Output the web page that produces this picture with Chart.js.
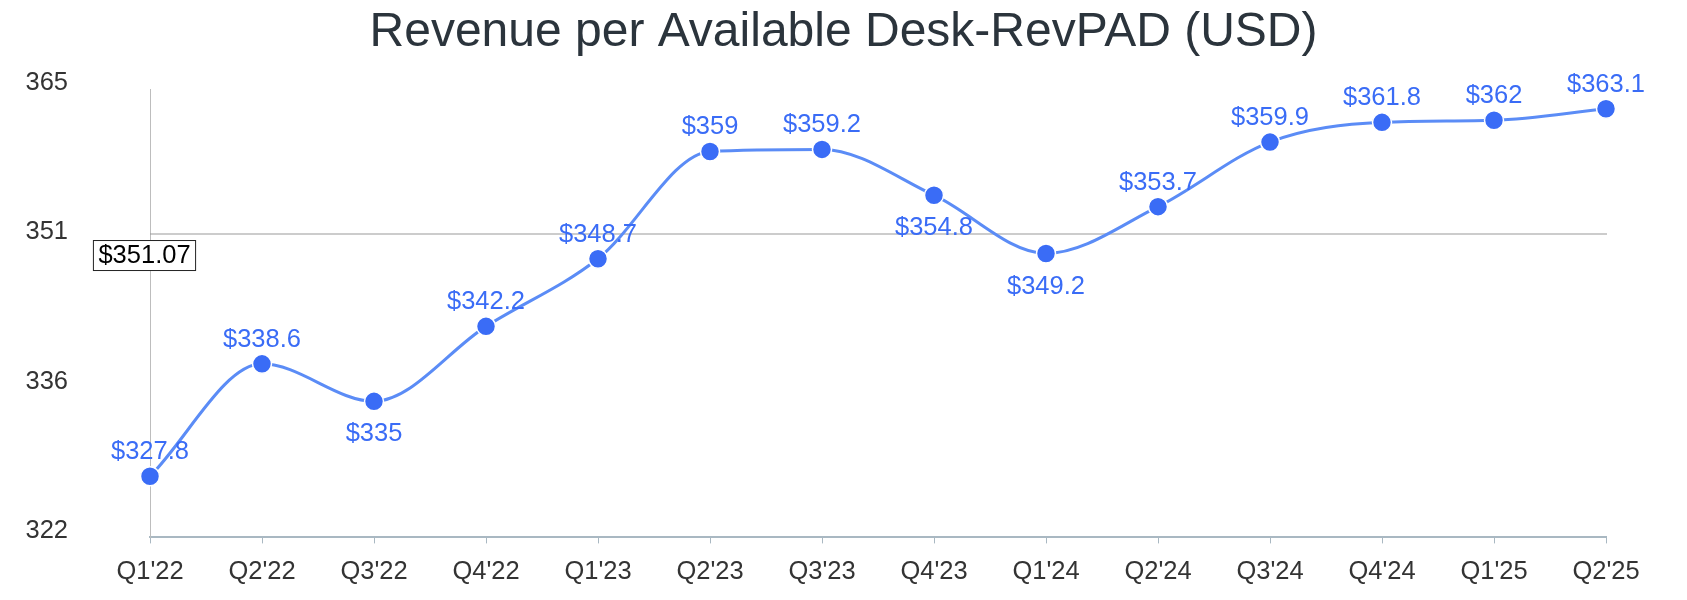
<!DOCTYPE html>
<html lang="en">
<head>
  <meta charset="utf-8">
  <script src="https://cdn.jsdelivr.net/npm/chart.js"></script>
<style>
  html, body {
    margin: 0;
    padding: 0;
    background: #fff;
  }
  .chart-box {
    width: 1687px;
    height: 600px;
  }
</style>
</head>
<body>
  <div class="chart-box">
    <canvas id="revpadChart"></canvas>
  </div>

<script>
  // Datos del gráfico
  var quarters = ["Q1'22", "Q2'22", "Q3'22", "Q4'22", "Q1'23", "Q2'23", "Q3'23",
                  "Q4'23", "Q1'24", "Q2'24", "Q3'24", "Q4'24", "Q1'25", "Q2'25"];
  var revpad = [327.8, 338.6, 335, 342.2, 348.7, 359, 359.2,
                354.8, 349.2, 353.7, 359.9, 361.8, 362, 363.1];
  var averageValue = 351.07;
  var yMin = 321.93;
  var yMax = 365;
  var yTickCount = 4;

  // etiquetas que van debajo del punto
  var belowIdx = [2, 7, 8];

  var FONT = "'Liberation Sans', Arial, Helvetica, sans-serif";
  var SMALL = 25.5;
  var blue = '#3a6cf6';

  // linea horizontal del promedio + etiqueta con caja
  var averageLine = {
    id: 'averageLine',
    beforeDatasetsDraw: function(chart) {
      var ctx = chart.ctx, area = chart.chartArea;
      var y = chart.scales.y.getPixelForValue(averageValue);
      ctx.save();
      ctx.strokeStyle = '#9a9a9a';
      ctx.lineWidth = 1.2;
      ctx.beginPath();
      ctx.moveTo(area.left, y);
      ctx.lineTo(area.right + 1, y);
      ctx.stroke();
      ctx.restore();
    },
    afterDatasetsDraw: function(chart) {
      var ctx = chart.ctx, area = chart.chartArea;
      var y = chart.scales.y.getPixelForValue(averageValue);
      var text = '$' + averageValue.toFixed(2);
      ctx.save();
      ctx.font = SMALL + 'px ' + FONT;
      var w = ctx.measureText(text).width + 10;
      var h = 30;
      var x = area.left - 6 - w / 2;
      var top = y + 6;
      ctx.fillStyle = '#fff';
      ctx.fillRect(x, top, w, h);
      ctx.strokeStyle = '#222';
      ctx.lineWidth = 1;
      ctx.strokeRect(x + 0.5, top + 0.5, w, h);
      ctx.fillStyle = '#000';
      ctx.textAlign = 'center';
      ctx.textBaseline = 'middle';
      ctx.fillText(text, x + w / 2 + 0.5, top + h / 2 + 1);
      ctx.restore();
    }
  };

  // valores encima / debajo de cada punto
  var pointLabels = {
    id: 'pointLabels',
    afterDatasetsDraw: function(chart) {
      var ctx = chart.ctx;
      var meta = chart.getDatasetMeta(0);
      ctx.save();
      ctx.font = SMALL + 'px ' + FONT;
      ctx.fillStyle = blue;
      ctx.textAlign = 'center';
      ctx.textBaseline = 'middle';
      meta.data.forEach(function(pt, i) {
        var off = belowIdx.indexOf(i) >= 0 ? 33 : -24;
        ctx.fillText('$' + revpad[i], pt.x, pt.y + off);
      });
      ctx.restore();
    }
  };

  var ctx = document.getElementById('revpadChart').getContext('2d');
  var revpadChart = new Chart(ctx, {
    type: 'line',
    data: {
      labels: quarters,
      datasets: [{
        label: 'RevPAD',
        data: revpad,
        yAxisID: 'y',
        borderColor: '#5b8cf6',
        borderWidth: 3,
        cubicInterpolationMode: 'monotone',
        fill: false,
        pointRadius: 9.5,
        pointBackgroundColor: blue,
        pointBorderColor: '#fff',
        pointBorderWidth: 1.5
      }]
    },
    options: {
      responsive: true,
      maintainAspectRatio: false,
      animation: false,
      layout: {
        padding: 0
      },
      plugins: {
        legend: { display: false },
        tooltip: { enabled: false },
        title: {
          display: true,
          text: 'Revenue per Available Desk-RevPAD (USD)',
          color: '#2b343c',
          font: { family: FONT, size: 48, weight: 'normal' },
          padding: { top: 4, bottom: 27.4 }
        }
      },
      scales: {
        x: {
          offset: false,
          grid: {
            drawOnChartArea: false,
            drawTicks: true,
            tickLength: 6,
            color: '#a9b8c2'
          },
          border: { color: '#a9b8c2', width: 2 },
          ticks: {
            color: '#333',
            padding: 13,
            maxRotation: 0,
            autoSkip: false,
            font: { family: FONT, size: SMALL }
          }
        },
        y: {
          position: 'left',
          min: yMin,
          max: yMax,
          grid: { display: false, drawTicks: false },
          border: { color: '#bdbdbd', width: 1, dash: [3, 3] },
          afterBuildTicks: function(scale) {
            var step = (yMax - yMin) / (yTickCount - 1);
            var ticks = [];
            for (var i = 0; i < yTickCount; i++) {
              ticks.push({ value: yMin + step * i });
            }
            scale.ticks = ticks;
          },
          afterFit: function(scale) {
            scale.width = 150;
            // el padding grande de las etiquetas no debe empujar el area
            scale.paddingTop = 0;
            scale.paddingBottom = 0;
          },
          ticks: {
            color: '#333',
            crossAlign: 'near',
            padding: 82,
            labelOffset: -6,
            font: { family: FONT, size: SMALL },
            callback: function(value) {
              return Math.round(value);
            }
          }
        },
        // eje vacio a la derecha solo para dejar el margen
        yRight: {
          position: 'right',
          display: true,
          min: yMin,
          max: yMax,
          grid: { display: false, drawTicks: false },
          border: { display: false },
          ticks: { display: false },
          afterFit: function(scale) {
            scale.width = 81;
          }
        }
      }
    },
    plugins: [averageLine, pointLabels]
  });
</script>
</body>
</html>
